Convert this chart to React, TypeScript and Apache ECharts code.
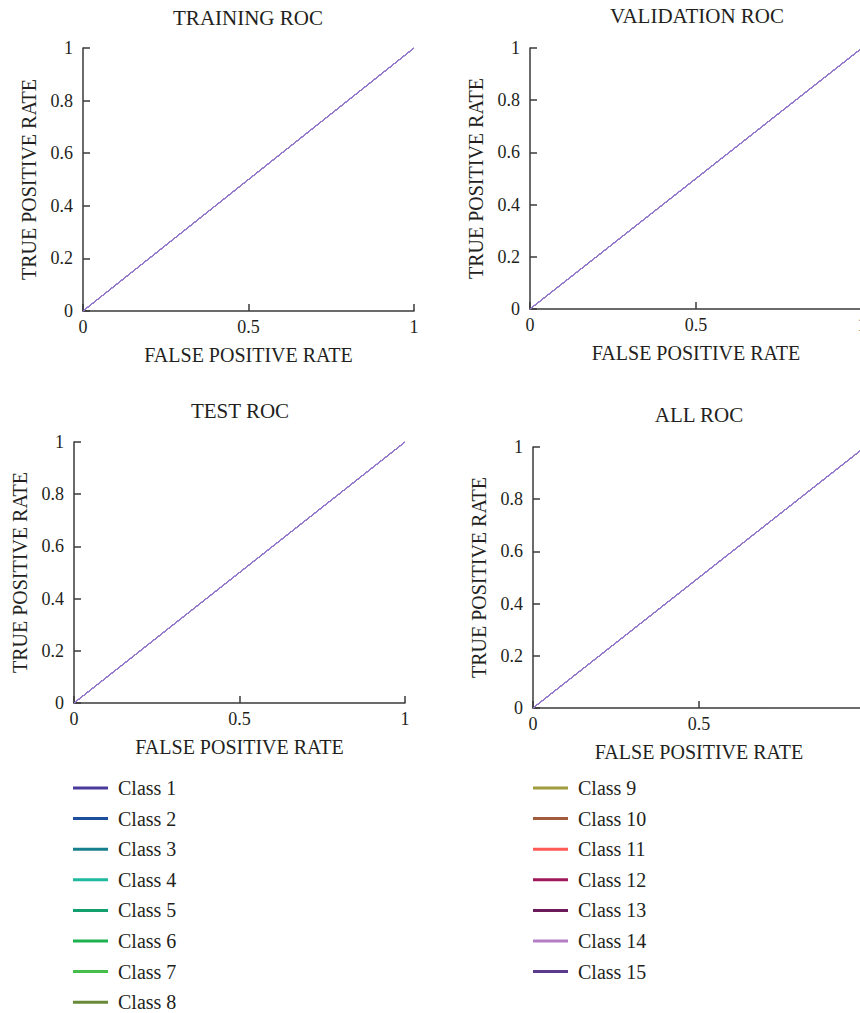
import React, { useEffect, useRef } from "react";
import * as echarts from "echarts";

const CLASSES = [
  "Class 1", "Class 2", "Class 3", "Class 4", "Class 5", "Class 6", "Class 7", "Class 8",
  "Class 9", "Class 10", "Class 11", "Class 12", "Class 13", "Class 14", "Class 15",
];
const CLASS_COLORS = [
  "#4b3a9c", "#1d4f9e", "#177f8d", "#1fb9a0", "#14a06e", "#1db24f", "#45bf4a", "#698a39",
  "#a09c3e", "#a35c3b", "#ff5a55", "#a0175a", "#6b1a5a", "#b47fc6", "#5a3b8d",
];
const PANEL_TITLES = ["TRAINING ROC", "VALIDATION ROC", "TEST ROC", "ALL ROC"];
// ROC curve points (false positive rate, true positive rate) — identical for every class
const FPR = [0, 1];
const TPR = [0, 1];
const X_TICKS = [0, 0.5, 1];
const Y_TICKS = [0, 0.2, 0.4, 0.6, 0.8, 1];

const FONT = "'Liberation Serif', 'Times New Roman', serif";
const TEXT = "#231f20";
const AXIS = "#3a3a3a";
const PLOT_LINE = "#9479cc";

const GRIDS = [
  { left: 83, top: 48, width: 331, height: 263 },
  { left: 530, top: 48, width: 332, height: 261 },
  { left: 74, top: 442, width: 331, height: 261 },
  { left: 533, top: 447, width: 332, height: 261 },
];
const TITLE_POS = [
  [248, 18],
  [697, 16],
  [240, 411],
  [699, 415],
];

export default function App() {
  const ref = useRef<HTMLDivElement>(null);
  useEffect(() => {
    if (!ref.current) return;
    const chart = echarts.init(ref.current, undefined, { renderer: "svg" });
    const pts = FPR.map((x, i) => [x, TPR[i]]);
    const axisCommon = {
      type: "value",
      min: 0,
      max: 1,
      splitLine: { show: false },
      axisLine: { show: true, lineStyle: { color: AXIS, width: 1.5 } },
      axisTick: { show: true, inside: true, length: 7, lineStyle: { color: AXIS, width: 1.5 } },
      nameLocation: "middle",
      nameTextStyle: { fontFamily: FONT, fontSize: 20, color: TEXT },
    };
    const xAxis = GRIDS.map((_, g) => ({
      ...axisCommon,
      gridIndex: g,
      interval: X_TICKS[1] - X_TICKS[0],
      name: "FALSE POSITIVE RATE",
      nameGap: 34,
      axisLabel: { fontFamily: FONT, fontSize: 18, color: TEXT, margin: 7 },
    }));
    const yAxis = GRIDS.map((_, g) => ({
      ...axisCommon,
      gridIndex: g,
      interval: Y_TICKS[1] - Y_TICKS[0],
      name: "TRUE POSITIVE RATE",
      nameGap: 44,
      axisLabel: { fontFamily: FONT, fontSize: 18, color: TEXT, margin: 10 },
    }));
    const series: any[] = [];
    GRIDS.forEach((_, g) => {
      CLASSES.forEach((name, c) => {
        series.push({
          type: "line",
          name,
          xAxisIndex: g,
          yAxisIndex: g,
          data: pts,
          symbol: "none",
          itemStyle: { color: CLASS_COLORS[c] },
          lineStyle: { color: PLOT_LINE, width: 1 },
          silent: true,
        });
      });
    });
    const legendCommon = {
      orient: "vertical",
      icon: "rect",
      itemWidth: 35,
      itemHeight: 3,
      itemGap: 10.6,
      top: 778,
      height: 300,
      padding: 0,
      textStyle: { fontFamily: FONT, fontSize: 20, color: TEXT, lineHeight: 20, padding: [0, 0, 0, 5] },
      selectedMode: false,
    };
    chart.setOption({
      animation: false,
      backgroundColor: "#ffffff",
      grid: GRIDS.map((g) => ({ ...g, containLabel: false, outerBoundsMode: "none" })),
      xAxis,
      yAxis,
      series,
      legend: [
        { ...legendCommon, left: 73, data: CLASSES.slice(0, 8) },
        { ...legendCommon, left: 533, data: CLASSES.slice(8) },
      ],
      graphic: PANEL_TITLES.map((t, i) => ({
        type: "text",
        x: TITLE_POS[i][0],
        y: TITLE_POS[i][1],
        style: {
          text: t,
          textAlign: "center",
          textVerticalAlign: "middle",
          fontFamily: FONT,
          fontSize: 21,
          fill: TEXT,
        },
      })),
    });
    return () => chart.dispose();
  }, []);
  return (
    <div
      ref={ref}
      style={{ position: "absolute", left: 0, top: 0, width: 860, height: 1013 }}
    />
  );
}
